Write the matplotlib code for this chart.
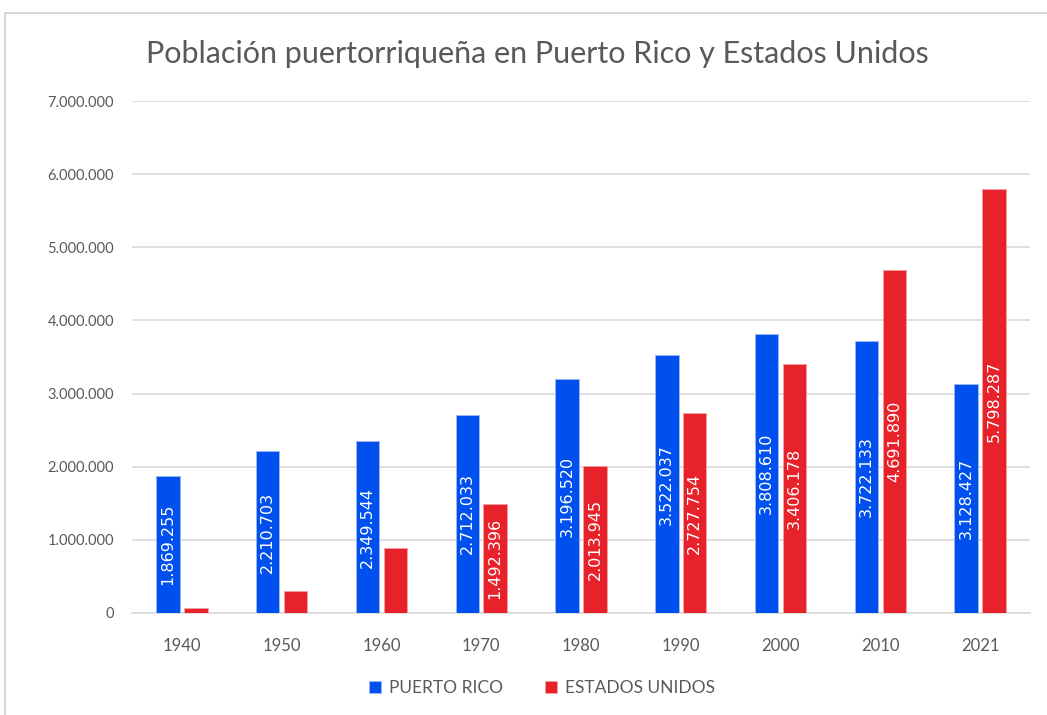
import numpy as np
import matplotlib
matplotlib.use("Agg")
import matplotlib.pyplot as plt
from matplotlib.patches import Rectangle
from matplotlib.ticker import FuncFormatter

matplotlib.rc('font', family=['Lato', 'DejaVu Sans'])

years = ['1940', '1950', '1960', '1970', '1980', '1990', '2000', '2010', '2021']
puerto_rico = [1869255, 2210703, 2349544, 2712033, 3196520, 3522037, 3808610, 3722133, 3128427]
estados_unidos = [69967, 301375, 892513, 1492396, 2013945, 2727754, 3406178, 4691890, 5798287]
# the first three US bars carry no label in the original
label_us = [False, False, False, True, True, True, True, True, True]

blue = '#0050ef'
red = '#e8222a'
grey = '#595959'


def fmt(v):
    return f'{v:,.0f}'.replace(',', '.')


fig = plt.figure(figsize=(10.47, 7.15), dpi=100)
fig.patches.append(Rectangle((5 / 1047, -0.01), 1.1, 1 - 13 / 715 + 0.01,
                             transform=fig.transFigure, fill=False,
                             edgecolor='#d0d0d0', linewidth=1.2))
ax = fig.add_axes([132 / 1047, 1 - 613 / 715, 898 / 1047, 512 / 715])

x = np.arange(len(years))
w = 0.235
off = 0.14
b1 = ax.bar(x - off, puerto_rico, w, color=blue, edgecolor='#9db8f7', linewidth=0.6,
            label='PUERTO RICO', zorder=3)
b2 = ax.bar(x + off, estados_unidos, w, color=red, edgecolor='#f3a0a3', linewidth=0.6,
            label='ESTADOS UNIDOS', zorder=3)

for rect, v in zip(b1, puerto_rico):
    ax.text(rect.get_x() + rect.get_width() / 2, v / 2, fmt(v), rotation=90,
            ha='center', va='center', color='white', fontsize=11.5,
            family='DejaVu Sans', zorder=4)
for rect, v, show in zip(b2, estados_unidos, label_us):
    if show:
        ax.text(rect.get_x() + rect.get_width() / 2, v / 2, fmt(v), rotation=90,
                ha='center', va='center', color='white', fontsize=11.5,
                family='DejaVu Sans', zorder=4)

ax.set_xlim(-0.5, len(years) - 0.5)
ax.set_ylim(0, 7000000)
ax.set_yticks(np.arange(0, 7000001, 1000000))
ax.yaxis.set_major_formatter(FuncFormatter(lambda v, p: fmt(v)))
ax.set_xticks(x)
ax.set_xticklabels(years)
ax.grid(axis='y', color='#d9d9d9', linewidth=1.2, zorder=0)
for s in ['top', 'right', 'left']:
    ax.spines[s].set_visible(False)
ax.spines['bottom'].set_color('#d9d9d9')
ax.spines['bottom'].set_linewidth(1.2)
ax.tick_params(axis='both', length=0, colors=grey)
ax.tick_params(axis='y', pad=13, labelsize=10.5)
ax.tick_params(axis='x', pad=18, labelsize=12)

fig.text(0.513, 0.925, 'Población puertorriqueña en Puerto Rico y Estados Unidos',
         ha='center', va='center', fontsize=22, color=grey)

leg = fig.legend(loc='center', bbox_to_anchor=(0.518, 1 - 688 / 715), ncol=2,
                 frameon=False, fontsize=12.5, handlelength=0.65, handleheight=0.65,
                 columnspacing=2.4, handletextpad=0.5)
for t in leg.get_texts():
    t.set_color(grey)

fig.savefig('out.png', dpi=100, facecolor='white')
